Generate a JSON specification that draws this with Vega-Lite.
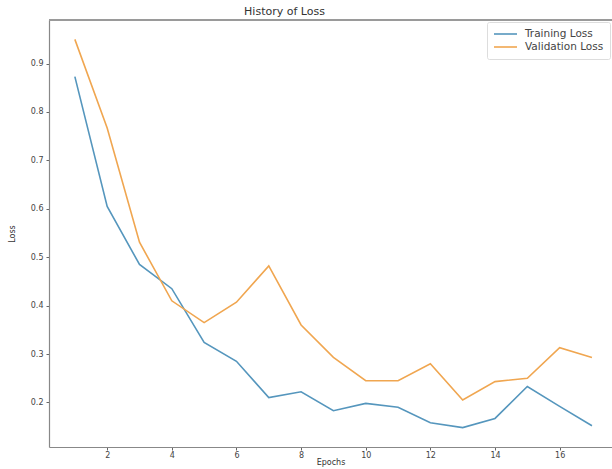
{
  "$schema": "https://vega.github.io/schema/vega-lite/v6.json",
  "width": 563,
  "height": 427,
  "autosize": {"type": "none"},
  "padding": {"left": 49, "top": 20, "right": 0, "bottom": 22},
  "background": "white",
  "title": {"text": "History of Loss", "fontSize": 11, "fontWeight": "normal", "font": "DejaVu Sans", "color": "#333", "offset": 2, "dx": -46},
  "config": {
    "view": {"stroke": null},
    "axis": {"labelFont": "DejaVu Sans", "titleFont": "DejaVu Sans", "labelFontSize": 8, "titleFontSize": 8, "labelColor": "#444", "titleColor": "#333", "titleFontWeight": "normal", "domainColor": "#888", "tickColor": "#666", "tickSize": 3, "grid": false, "domainWidth": 1.2},
    "legend": {"labelFont": "DejaVu Sans", "labelFontSize": 10.5, "labelColor": "#444"}
  },
  "data": {"values": [
    {"epoch": 1, "loss": 0.873, "series": "Training Loss"},
    {"epoch": 2, "loss": 0.605, "series": "Training Loss"},
    {"epoch": 3, "loss": 0.485, "series": "Training Loss"},
    {"epoch": 4, "loss": 0.435, "series": "Training Loss"},
    {"epoch": 5, "loss": 0.324, "series": "Training Loss"},
    {"epoch": 6, "loss": 0.285, "series": "Training Loss"},
    {"epoch": 7, "loss": 0.21, "series": "Training Loss"},
    {"epoch": 8, "loss": 0.222, "series": "Training Loss"},
    {"epoch": 9, "loss": 0.183, "series": "Training Loss"},
    {"epoch": 10, "loss": 0.198, "series": "Training Loss"},
    {"epoch": 11, "loss": 0.19, "series": "Training Loss"},
    {"epoch": 12, "loss": 0.158, "series": "Training Loss"},
    {"epoch": 13, "loss": 0.148, "series": "Training Loss"},
    {"epoch": 14, "loss": 0.167, "series": "Training Loss"},
    {"epoch": 15, "loss": 0.233, "series": "Training Loss"},
    {"epoch": 16, "loss": 0.192, "series": "Training Loss"},
    {"epoch": 17, "loss": 0.152, "series": "Training Loss"},
    {"epoch": 1, "loss": 0.95, "series": "Validation Loss"},
    {"epoch": 2, "loss": 0.767, "series": "Validation Loss"},
    {"epoch": 3, "loss": 0.531, "series": "Validation Loss"},
    {"epoch": 4, "loss": 0.41, "series": "Validation Loss"},
    {"epoch": 5, "loss": 0.365, "series": "Validation Loss"},
    {"epoch": 6, "loss": 0.407, "series": "Validation Loss"},
    {"epoch": 7, "loss": 0.482, "series": "Validation Loss"},
    {"epoch": 8, "loss": 0.36, "series": "Validation Loss"},
    {"epoch": 9, "loss": 0.293, "series": "Validation Loss"},
    {"epoch": 10, "loss": 0.245, "series": "Validation Loss"},
    {"epoch": 11, "loss": 0.245, "series": "Validation Loss"},
    {"epoch": 12, "loss": 0.28, "series": "Validation Loss"},
    {"epoch": 13, "loss": 0.205, "series": "Validation Loss"},
    {"epoch": 14, "loss": 0.243, "series": "Validation Loss"},
    {"epoch": 15, "loss": 0.25, "series": "Validation Loss"},
    {"epoch": 16, "loss": 0.313, "series": "Validation Loss"},
    {"epoch": 17, "loss": 0.293, "series": "Validation Loss"}
  ]},
  "layer": [
    {
      "mark": {"type": "line", "strokeWidth": 1.6, "clip": true},
      "encoding": {
        "x": {"field": "epoch", "type": "quantitative", "title": "Epochs",
              "scale": {"domain": [0.2, 17.62], "nice": false, "zero": false},
              "axis": {"values": [2, 4, 6, 8, 10, 12, 14, 16], "titlePadding": -1, "labelPadding": 1}},
        "y": {"field": "loss", "type": "quantitative", "title": "Loss",
              "scale": {"domain": [0.108, 0.99], "nice": false, "zero": false},
              "axis": {"values": [0.2, 0.3, 0.4, 0.5, 0.6, 0.7, 0.8, 0.9], "format": ".1f", "titlePadding": 14, "labelPadding": 3}},
        "color": {"field": "series", "type": "nominal",
                  "scale": {"domain": ["Training Loss", "Validation Loss"], "range": ["#5596bd", "#f0a650"]},
                  "legend": {"title": null, "orient": "top-right", "offset": 2, "symbolType": "M-1,0H3.6", "symbolSize": 100, "symbolStrokeWidth": 1.6, "symbolFillColor": "transparent", "strokeColor": "#ddd", "fillColor": "white", "padding": 6, "rowPadding": 1, "labelOffset": 20, "cornerRadius": 2}}
      }
    },
    {
      "mark": {"type": "rule", "color": "#999", "strokeWidth": 1.2},
      "encoding": {"y": {"datum": 0.99}}
    }
  ]
}
